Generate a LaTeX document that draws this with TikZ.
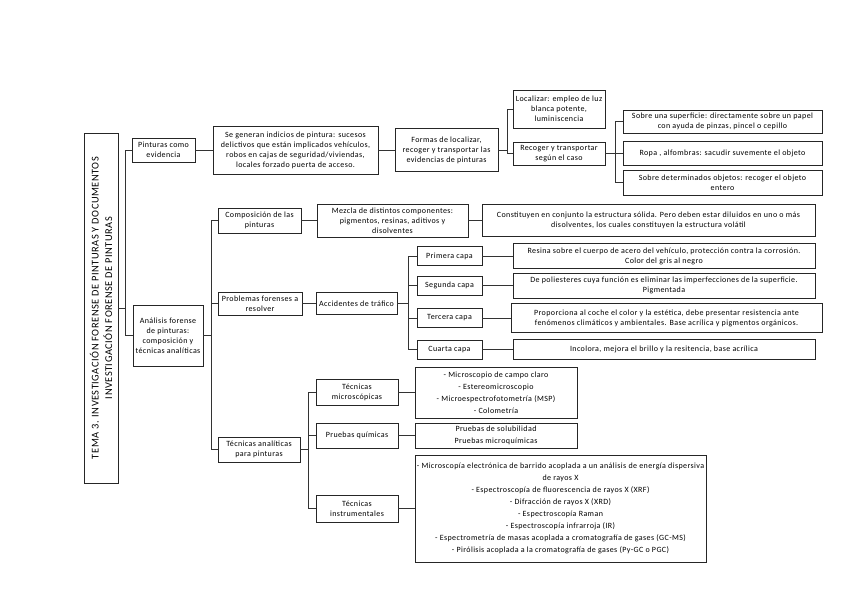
\documentclass[tikz,border=0pt]{standalone}
\usepackage{fontspec}
\setmainfont{Carlito}[LetterSpace=5]

\tikzset{
  caja/.style={draw=black!85, line width=0.9pt, align=center, inner sep=1pt,
    font=\fontsize{8}{10}\selectfont},
  lista/.style={caja, font=\fontsize{8}{12}\selectfont},
  rama/.style={draw=black!80, line width=0.7pt},
}

\begin{document}
\begin{tikzpicture}[x=1pt, y=-1pt]
  %%%%% MARCO %%%%%
  \useasboundingbox (0,0) rectangle (848,599);

  % titulo
  \node[caja, rotate=90, minimum width=350, minimum height=34,
    font=\fontsize{10.4}{13.5}\selectfont] (tit) at (101,308)
    {TEMA 3. INVESTIGACIÓN FORENSE DE PINTURAS Y DOCUMENTOS\\INVESTIGACIÓN FORENSE DE PINTURAS};

  %%%%% PINTURAS COMO EVIDENCIA %%%%%
  \node[caja, minimum width=63, minimum height=24] (pin) at (163.5,150) {Pinturas como\\evidencia};
  \node[caja, minimum width=165, minimum height=48] (gen) at (295.5,150)
    {Se generan indicios de pintura: sucesos\\delictivos que están implicados vehículos,\\robos en cajas de seguridad/viviendas,\\locales forzado puerta de acceso.};
  \node[caja, minimum width=103, minimum height=43] (for) at (446.5,150)
    {Formas de localizar,\\recoger y transportar las\\evidencias de pinturas};
  \node[caja, minimum width=92, minimum height=38] (loc) at (559,109)
    {Localizar: empleo de luz\\blanca potente,\\luminiscencia};
  \node[caja, minimum width=92, minimum height=23] (rec) at (559,153.5)
    {Recoger y transportar\\según el caso};
  \node[caja, minimum width=199, minimum height=23] (sup) at (722.5,121.5)
    {Sobre una superficie: directamente sobre un papel\\con ayuda de pinzas, pincel o cepillo};
  \node[caja, minimum width=199, minimum height=24] (ropa) at (722.5,153.5)
    {Ropa , alfombras: sacudir suvemente el objeto};
  \node[caja, minimum width=199, minimum height=25] (det) at (722.5,182.5)
    {Sobre determinados objetos: recoger el objeto\\entero};

  %%%%% ANALISIS FORENSE %%%%%
  \node[caja, minimum width=70, minimum height=61] (ana) at (168,335.5)
    {Análisis forense\\de pinturas:\\composición y\\técnicas analíticas};

  \node[caja, minimum width=83, minimum height=25] (comp) at (259.5,220.5) {Composición de las\\pinturas};
  \node[caja, minimum width=151, minimum height=33] (mez) at (392.5,220.5)
    {Mezcla de distintos componentes:\\pigmentos, resinas, aditivos y\\disolventes};
  \node[caja, minimum width=333, minimum height=32] (cons) at (648.5,220.5)
    {Constituyen en conjunto la estructura sólida. Pero deben estar diluidos en uno o más\\disolventes, los cuales constituyen la estructura volátil};

  \node[caja, minimum width=84, minimum height=23] (prob) at (260,303.5) {Problemas forenses a\\resolver};
  \node[caja, minimum width=81, minimum height=22] (acc) at (356.5,303.5) {Accidentes de tráfico};

  \node[caja, minimum width=65, minimum height=19] (c1) at (449.5,256) {Primera capa};
  \node[caja, minimum width=65, minimum height=19] (c2) at (449.5,285.5) {Segunda capa};
  \node[caja, minimum width=65, minimum height=19] (c3) at (449.5,318) {Tercera capa};
  \node[caja, minimum width=65, minimum height=19] (c4) at (449.5,349.5) {Cuarta capa};

  \node[caja, minimum width=302, minimum height=25] (r1) at (664,256)
    {Resina sobre el cuerpo de acero del vehículo, protección contra la corrosión.\\Color del gris al negro};
  \node[caja, minimum width=302, minimum height=25] (r2) at (664,285.5)
    {De poliesteres cuya función es eliminar las imperfecciones de la superficie.\\Pigmentada};
  \node[caja, minimum width=311, minimum height=29] (r3) at (666.5,318)
    {Proporciona al coche el color y la estética, debe presentar resistencia ante\\fenómenos climáticos y ambientales. Base acrílica y pigmentos orgánicos.};
  \node[caja, minimum width=302, minimum height=20] (r4) at (664,349.5)
    {Incolora, mejora el brillo y la resitencia, base acrílica};

  \node[caja, minimum width=82, minimum height=25] (tec) at (259,449.5) {Técnicas analíticas\\para pinturas};
  \node[caja, minimum width=82, minimum height=26] (mic) at (357,392.5) {Técnicas\\microscópicas};
  \node[caja, minimum width=82, minimum height=25] (pq) at (357,435.5) {Pruebas químicas};
  \node[caja, minimum width=82, minimum height=27] (ins) at (357,508.5) {Técnicas\\instrumentales};

  \node[lista, minimum width=162, minimum height=51] (lmic) at (496,392.5)
    {- Microscopio de campo claro\\- Estereomicroscopio\\- Microespectrofotometría (MSP)\\- Colometría};
  \node[lista, minimum width=162, minimum height=25] (lpq) at (496,435.5)
    {Pruebas de solubilidad\\Pruebas microquímicas};
  \node[lista, minimum width=291, minimum height=107] (lins) at (560.5,508.5)
    {- Microscopía electrónica de barrido acoplada a un análisis de energía dispersiva\\de rayos X\\- Espectroscopía de fluorescencia de rayos X (XRF)\\- Difracción de rayos X (XRD)\\- Espectroscopía Raman\\- Espectroscopía infrarroja (IR)\\- Espectrometría de masas acoplada a cromatografía de gases (GC-MS)\\- Pirólisis acoplada a la cromatografía de gases (Py-GC o PGC)};

  %%%%% CONECTORES %%%%%
  \coordinate (b1) at (125,0);
  \coordinate (b2) at (507,0);
  \coordinate (b3) at (615,0);
  \coordinate (b4) at (211,0);
  \coordinate (b5) at (408,0);
  \coordinate (b6) at (308,0);

  \draw[rama] (tit.south) -- (b1 |- tit.south) |- (pin.west);
  \draw[rama] (b1 |- tit.south) |- (ana.west);

  \draw[rama] (pin) -- (gen);
  \draw[rama] (gen) -- (for);
  \draw[rama] (for.east) -- (b2 |- for.east) |- (loc.west);
  \draw[rama] (b2 |- for.east) |- (rec.west);
  \draw[rama] (rec.east) -- (b3 |- rec.east) |- (sup.west);
  \draw[rama] (b3 |- rec.east) -- (ropa.west);
  \draw[rama] (b3 |- rec.east) |- (det.west);

  \draw[rama] (ana.east) -- (b4 |- ana.east) |- (comp.west);
  \draw[rama] (b4 |- ana.east) |- (prob.west);
  \draw[rama] (b4 |- ana.east) |- (tec.west);
  \draw[rama] (comp) -- (mez);
  \draw[rama] (mez) -- (cons);
  \draw[rama] (prob) -- (acc);

  \foreach \i in {1,...,4} {
    \draw[rama] (acc.east) -- (b5 |- acc.east) |- (c\i.west);
    \draw[rama] (c\i) -- (r\i);
  }

  \draw[rama] (tec.east) -- (b6 |- tec.east) |- (mic.west);
  \draw[rama] (b6 |- tec.east) |- (pq.west);
  \draw[rama] (b6 |- tec.east) |- (ins.west);
  \draw[rama] (mic) -- (lmic);
  \draw[rama] (pq) -- (lpq);
  \draw[rama] (ins) -- (lins);
\end{tikzpicture}
\end{document}
